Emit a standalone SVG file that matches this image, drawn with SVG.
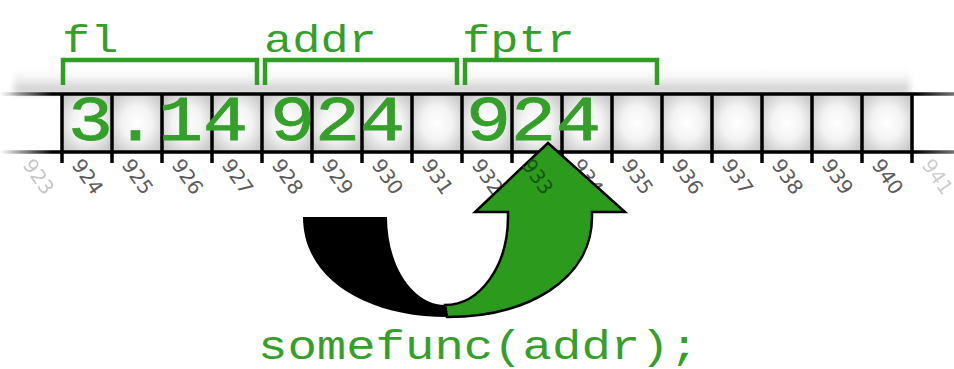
<svg xmlns="http://www.w3.org/2000/svg" width="954" height="369" viewBox="0 0 954 369">
  <defs>
    <radialGradient id="cellFill" cx="0.5" cy="0.5" r="0.6">
      <stop offset="0" stop-color="#ffffff"/>
      <stop offset="0.5" stop-color="#f3f3f3"/>
      <stop offset="1" stop-color="#cbcbcb"/>
    </radialGradient>
    <linearGradient id="railFade" x1="0" y1="0" x2="954" y2="0" gradientUnits="userSpaceOnUse">
      <stop offset="0" stop-color="#000" stop-opacity="0"/>
      <stop offset="0.055" stop-color="#000" stop-opacity="1"/>
      <stop offset="0.96" stop-color="#000" stop-opacity="1"/>
      <stop offset="1" stop-color="#000" stop-opacity="0.55"/>
    </linearGradient>
    <linearGradient id="shade" x1="0" y1="0" x2="0" y2="1">
      <stop offset="0" stop-color="#ffffff" stop-opacity="0"/>
      <stop offset="1" stop-color="#b8b8b8" stop-opacity="0.9"/>
    </linearGradient>
    <filter id="soft" x="-5%" y="-50%" width="110%" height="200%">
      <feGaussianBlur stdDeviation="3"/>
    </filter>
    <style>
      .code { font-family: "Liberation Mono", "DejaVu Sans Mono", monospace; fill: #34a02a; }
      .big { font-size: 75px; stroke: #34a02a; stroke-width: 1; }
      .name { font-size: 47px; }
      .call { font-size: 49px; }
      .addr { font-family: "DejaVu Sans", "Liberation Sans", sans-serif; font-size: 20px; fill: #5c5c5c; }
      .bracket { fill: none; stroke: #2f9e22; stroke-width: 4.5; }
      .wall { stroke: #000; stroke-width: 3.5; }
      .rail { stroke: url(#railFade); stroke-width: 3.5; }
    </style>
  </defs>

  <rect width="954" height="369" fill="#ffffff"/>

  <!-- soft shadow above the memory strip -->
  <rect x="14" y="66" width="896" height="27" fill="url(#shade)" filter="url(#soft)"/>

  <!-- memory cells -->
  <g id="cells">
    <rect x="62" y="94" width="50" height="58" fill="url(#cellFill)"/>
    <rect x="112" y="94" width="50" height="58" fill="url(#cellFill)"/>
    <rect x="162" y="94" width="50" height="58" fill="url(#cellFill)"/>
    <rect x="212" y="94" width="50" height="58" fill="url(#cellFill)"/>
    <rect x="262" y="94" width="50" height="58" fill="url(#cellFill)"/>
    <rect x="312" y="94" width="50" height="58" fill="url(#cellFill)"/>
    <rect x="362" y="94" width="50" height="58" fill="url(#cellFill)"/>
    <rect x="412" y="94" width="50" height="58" fill="url(#cellFill)"/>
    <rect x="462" y="94" width="50" height="58" fill="url(#cellFill)"/>
    <rect x="512" y="94" width="50" height="58" fill="url(#cellFill)"/>
    <rect x="562" y="94" width="50" height="58" fill="url(#cellFill)"/>
    <rect x="612" y="94" width="50" height="58" fill="url(#cellFill)"/>
    <rect x="662" y="94" width="50" height="58" fill="url(#cellFill)"/>
    <rect x="712" y="94" width="50" height="58" fill="url(#cellFill)"/>
    <rect x="762" y="94" width="50" height="58" fill="url(#cellFill)"/>
    <rect x="812" y="94" width="50" height="58" fill="url(#cellFill)"/>
    <rect x="862" y="94" width="50" height="58" fill="url(#cellFill)"/>
  </g>

  <!-- strip rails, cell walls and ticks -->
  <g id="strip">
    <line class="rail" x1="0" y1="94" x2="954" y2="94"/>
    <line class="rail" x1="0" y1="152" x2="954" y2="152"/>
    <line class="wall" x1="62" y1="93" x2="62" y2="163"/>
    <line class="wall" x1="112" y1="93" x2="112" y2="163"/>
    <line class="wall" x1="162" y1="93" x2="162" y2="163"/>
    <line class="wall" x1="212" y1="93" x2="212" y2="163"/>
    <line class="wall" x1="262" y1="93" x2="262" y2="163"/>
    <line class="wall" x1="312" y1="93" x2="312" y2="163"/>
    <line class="wall" x1="362" y1="93" x2="362" y2="163"/>
    <line class="wall" x1="412" y1="93" x2="412" y2="163"/>
    <line class="wall" x1="462" y1="93" x2="462" y2="163"/>
    <line class="wall" x1="512" y1="93" x2="512" y2="163"/>
    <line class="wall" x1="562" y1="93" x2="562" y2="163"/>
    <line class="wall" x1="612" y1="93" x2="612" y2="163"/>
    <line class="wall" x1="662" y1="93" x2="662" y2="163"/>
    <line class="wall" x1="712" y1="93" x2="712" y2="163"/>
    <line class="wall" x1="762" y1="93" x2="762" y2="163"/>
    <line class="wall" x1="812" y1="93" x2="812" y2="163"/>
    <line class="wall" x1="862" y1="93" x2="862" y2="163"/>
    <line class="wall" x1="912" y1="93" x2="912" y2="163"/>
  </g>

  <!-- cell contents (glyphs flattened a little vertically) -->
  <g id="fl-value"><text class="code big" transform="translate(68,140) scale(1,0.84)">3.14</text></g>
  <g id="addr-value"><text class="code big" transform="translate(270,140) scale(1,0.84)">924</text></g>
  <g id="fptr-value"><text class="code big" transform="translate(466,140) scale(1,0.84)">924</text></g>

  <!-- variable names and their spans -->
  <g id="fl">
    <text class="code name" transform="translate(62,52) scale(1,0.82)">fl</text>
    <path class="bracket" d="M63,85 V60 H257 V85"/>
  </g>
  <g id="addr">
    <text class="code name" transform="translate(264,52) scale(1,0.82)">addr</text>
    <path class="bracket" d="M265,85 V60 H457 V85"/>
  </g>
  <g id="fptr">
    <text class="code name" transform="translate(462,52) scale(1,0.82)">fptr</text>
    <path class="bracket" d="M465,85 V60 H657 V85"/>
  </g>

  <!-- byte addresses -->
  <g id="addresses">
    <text class="addr" opacity="0.35" transform="translate(22,165) rotate(55)">923</text>
    <text class="addr" transform="translate(71,165) rotate(55)">924</text>
    <text class="addr" transform="translate(121,165) rotate(55)">925</text>
    <text class="addr" transform="translate(171,165) rotate(55)">926</text>
    <text class="addr" transform="translate(221,165) rotate(55)">927</text>
    <text class="addr" transform="translate(271,165) rotate(55)">928</text>
    <text class="addr" transform="translate(321,165) rotate(55)">929</text>
    <text class="addr" transform="translate(371,165) rotate(55)">930</text>
    <text class="addr" transform="translate(421,165) rotate(55)">931</text>
    <text class="addr" transform="translate(471,165) rotate(55)">932</text>
    <text class="addr" transform="translate(571,165) rotate(55)">934</text>
    <text class="addr" transform="translate(621,165) rotate(55)">935</text>
    <text class="addr" transform="translate(671,165) rotate(55)">936</text>
    <text class="addr" transform="translate(721,165) rotate(55)">937</text>
    <text class="addr" transform="translate(771,165) rotate(55)">938</text>
    <text class="addr" transform="translate(821,165) rotate(55)">939</text>
    <text class="addr" transform="translate(871,165) rotate(55)">940</text>
    <text class="addr" opacity="0.3" transform="translate(921,165) rotate(55)">941</text>
  </g>

  <!-- U-turn arrow: value passed in, pointer comes back -->
  <g id="connectors">
    <path d="M303,217 C303,280 368,317 447,317 L445,305 C413,305 387,266 387,217 Z" fill="#000"/>
    <path d="M447,317 C527,317 592,280 592,217 V212 H625 L548,143 L475,212 H508 V217 C508,266 480,305 445,305 Z" fill="#2c9a1c" stroke="#000" stroke-width="2.5" stroke-linejoin="miter"/>
    <text class="addr" style="fill:#175512" transform="translate(521,165) rotate(55)">933</text>
  </g>

  <g id="call">
    <text class="code call" transform="translate(258,359) scale(1,0.82)">somefunc(addr);</text>
  </g>
</svg>
